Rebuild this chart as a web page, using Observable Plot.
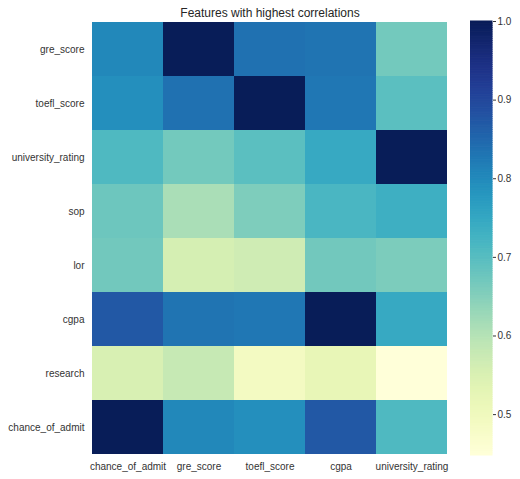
<!DOCTYPE html>
<html><head><meta charset="utf-8">
<script src="https://cdn.jsdelivr.net/npm/d3@7"></script>
<script src="https://cdn.jsdelivr.net/npm/@observablehq/plot@0.6"></script>
<style>
body{margin:0;background:#fff;}
#wrap{position:relative;width:520px;height:479px;font-family:"Liberation Sans",Arial,sans-serif;}
#wrap svg{position:absolute;top:0;}
</style></head>
<body><div id="wrap"></div>
<script>
const title = "Features with highest correlations";
const rows = ["gre_score","toefl_score","university_rating","sop","lor","cgpa","research","chance_of_admit"];
const cols = ["chance_of_admit","gre_score","toefl_score","cgpa","university_rating"];
const gre_score = [0.803, 1.000, 0.836, 0.833, 0.669];
const toefl_score = [0.792, 0.836, 1.000, 0.828, 0.696];
const university_rating = [0.711, 0.669, 0.696, 0.746, 1.000];
const sop = [0.676, 0.613, 0.658, 0.718, 0.735];
const lor = [0.670, 0.558, 0.568, 0.670, 0.660];
const cgpa = [0.873, 0.833, 0.828, 1.000, 0.746];
const research = [0.553, 0.580, 0.490, 0.522, 0.448];
const chance_of_admit = [1.000, 0.803, 0.792, 0.873, 0.711];
const colorTicks = [0.5, 0.6, 0.7, 0.8, 0.9, 1.0];

const matrix = [gre_score, toefl_score, university_rating, sop, lor, cgpa, research, chance_of_admit];
const cells = [];
rows.forEach((r, i) => cols.forEach((c, j) => cells.push({row: r, col: c, value: matrix[i][j]})));
const vmin = d3.min(cells, d => d.value), vmax = d3.max(cells, d => d.value);
const colorOpt = {type: "linear", scheme: "ylgnbu", domain: [vmin, vmax]};

const main = Plot.plot({
  width: 520, height: 479,
  marginLeft: 91, marginRight: 72, marginTop: 21, marginBottom: 24,
  style: {fontFamily: "Liberation Sans, Arial, sans-serif", fontSize: "10px", color: "#333"},
  x: {domain: cols, padding: 0, label: null, tickSize: 0, tickPadding: 7},
  y: {domain: rows, padding: 0, label: null, tickSize: 0, tickPadding: 7},
  color: colorOpt,
  marks: [
    Plot.cell(cells, {x: "col", y: "row", fill: "value", inset: 0}),
    Plot.text([title], {frameAnchor: "top", dy: -5, lineAnchor: "bottom", fontSize: 12, fill: "#262626"})
  ]
});
document.getElementById("wrap").appendChild(main);

// colorbar ramp
const steps = d3.range(200).map(i => {
  const a = vmin + (vmax - vmin) * i / 200, b = vmin + (vmax - vmin) * (i + 1) / 200;
  return {y1: a, y2: b, v: (a + b) / 2};
});
const bar = Plot.plot({
  width: 50, height: 479,
  marginLeft: 0, marginRight: 28, marginTop: 21, marginBottom: 24,
  style: {fontFamily: "Liberation Sans, Arial, sans-serif", fontSize: "10px", color: "#333"},
  x: {axis: null, domain: [0, 1]},
  y: {domain: [vmin, vmax], axis: "right", ticks: colorTicks, tickFormat: d3.format(".1f"), tickSize: 3, tickPadding: 2, label: null},
  color: colorOpt,
  marks: [
    Plot.rect(steps, {x1: 0, x2: 1, y1: "y1", y2: "y2", fill: "v", stroke: "v", strokeWidth: 1})
  ]
});
bar.style.left = "470px";
document.getElementById("wrap").appendChild(bar);
</script></body></html>
